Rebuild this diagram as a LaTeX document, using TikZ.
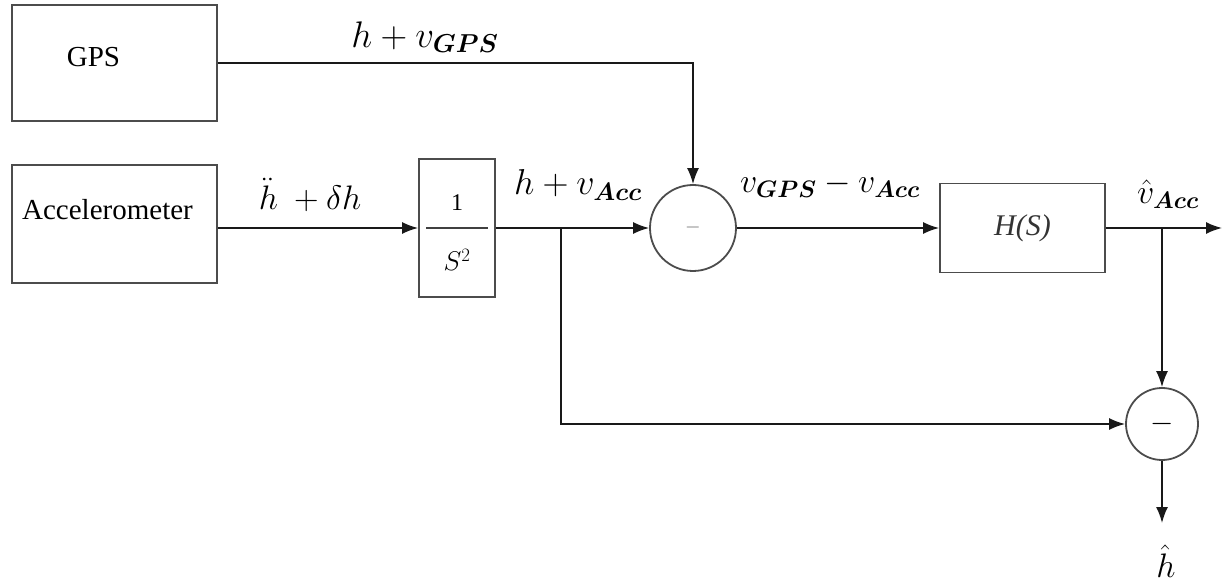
\RequirePackage{fix-cm}
\documentclass[tikz,border=0pt]{standalone}
\usepackage{fontspec}
\usepackage{bm}
\setmainfont{Liberation Serif}
\usetikzlibrary{arrows.meta}
\begin{document}
\begin{tikzpicture}[x=1pt,y=-1pt,
  blk/.style={draw=black!70,line width=1.8pt,inner sep=0pt},
  sumc/.style={circle,draw=black!70,line width=1.8pt,inner sep=0pt},
  conn/.style={line width=1.6pt,draw=black!90},
  arr/.style={conn,-{Latex[length=16pt,width=12pt]}},
  lbl/.style={font=\fontsize{34}{38}\selectfont,inner sep=0pt},
  txt/.style={font=\fontsize{29}{33}\selectfont,inner sep=0pt}]
\useasboundingbox (0,0) rectangle (1224,585);
% blocks
\node[blk,minimum width=205pt,minimum height=116pt,
  label={[txt,xshift=-21pt,yshift=6pt]center:GPS}] (gps) at (114.5,63) {};
\node[blk,minimum width=205pt,minimum height=118pt,
  label={[txt,xshift=-7pt,yshift=14pt]center:Accelerometer}] (acc) at (114.5,224) {};
\node[blk,minimum width=76pt,minimum height=138pt] (int) at (457,228) {};
\node[inner sep=0pt,font=\fontsize{24}{28}\selectfont] (num) at (457,203) {1};
\node[inner sep=0pt,font=\fontsize{27}{30}\selectfont] (den) at (457,260) {$S^2$};
\draw[line width=1.5pt,black!75] ([xshift=8pt]int.west) -- ([xshift=-8pt]int.east);
\node[sumc,minimum size=86pt] (sum1) at (693,228) {};
\node[font=\fontsize{20}{22}\selectfont,text=black!55] at (sum1) {$-$};
\node[blk,minimum width=165pt,minimum height=89pt,font=\fontsize{30}{34}\selectfont\itshape,text=black!80] (hs) at (1022.5,228) {H(S)};
\node[sumc,minimum size=72pt] (sum2) at (1162,424) {};
\node[font=\fontsize{30}{32}\selectfont] at (sum2) {$-$};
% coordinates
\coordinate (br1) at (561,228);
\coordinate (br2) at (1162,228);
\coordinate (out) at (1222,228);
\coordinate (hout) at (1162,523);
% connectors
\draw[arr] (gps.east) -| (sum1.north);
\draw[arr] (acc.east |- int.west) -- (int.west);
\draw[arr] (int.east) -- (sum1.west);
\draw[arr] (br1) |- (sum2.west);
\draw[arr] (sum1.east) -- (hs.west);
\draw[arr] (hs.east) -- (out);
\draw[arr] (br2) -- (sum2.north);
\draw[arr] (sum2.south) -- (hout);
% labels
\node[lbl,font=\fontsize{37}{40}\selectfont] (l1) at (425,37) {$h+v_{\bm{GPS}}$};
\node[lbl] (l2) at (310,195) {$\ddot{h}\ +\delta h$};
\node[lbl,font=\fontsize{36}{40}\selectfont] (l3) at (578,185) {$h+v_{\bm{Acc}}$};
\node[lbl] (l4) at (830,185) {$v_{\bm{GPS}}-v_{\bm{Acc}}$};
\node[lbl] (l5) at (1168,194) {$\hat{v}_{\bm{Acc}}$};
\node[lbl] (l6) at (1166,561) {$\hat{h}$};
\end{tikzpicture}
\end{document}
